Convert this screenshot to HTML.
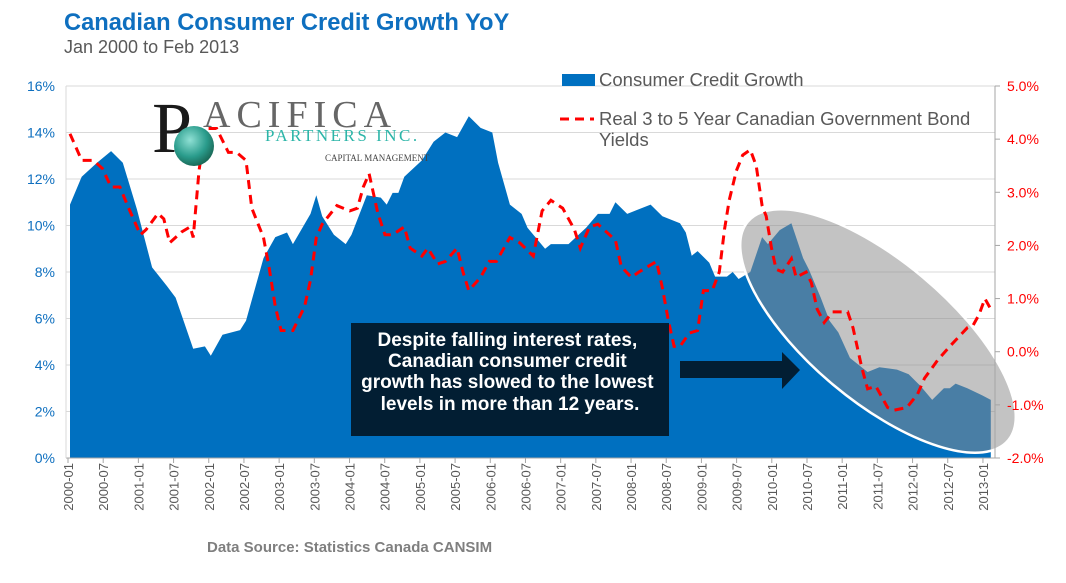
<!DOCTYPE html>
<html><head><meta charset="utf-8"><style>
body{margin:0;background:#fff;width:1066px;height:583px;overflow:hidden;font-family:"Liberation Sans",sans-serif}
svg{display:block}
</style></head><body>
<svg id="c" width="1066" height="583" xmlns="http://www.w3.org/2000/svg">
<text x="64" y="30" font-size="23.7" font-weight="bold" fill="#0e6fbf">Canadian Consumer Credit Growth YoY</text>
<text x="64" y="53" font-size="18" fill="#595959">Jan 2000 to Feb 2013</text>
<g id="grid"></g><g id="area"></g><g id="ell"></g><g id="line"></g><g id="axes"></g>
<g>
<text x="152" y="152" font-family="Liberation Serif,serif" font-size="72" fill="#1a1a1a">P</text>
<text x="203" y="127" font-family="Liberation Serif,serif" font-size="38" fill="#666" letter-spacing="6">ACIFICA</text>
<text x="265" y="141" font-family="Liberation Serif,serif" font-size="17" fill="#2cb5a8" letter-spacing="2.5">PARTNERS INC.</text>
<text x="325" y="161" font-family="Liberation Serif,serif" font-size="9" fill="#444">CAPITAL MANAGEMENT</text>
<defs><radialGradient id="g1" cx="0.4" cy="0.35" r="0.7"><stop offset="0" stop-color="#8fe0d4"/><stop offset="0.6" stop-color="#2a9c8c"/><stop offset="1" stop-color="#17614f"/></radialGradient></defs>
<circle cx="194" cy="146" r="20" fill="url(#g1)"/>
</g>
<g>
<rect x="562" y="74" width="33" height="12" fill="#0070c0"/>
<text x="599" y="86" font-size="18.5" fill="#595959">Consumer Credit Growth</text>
<line x1="560" y1="119" x2="594" y2="119" stroke="#ff0000" stroke-width="3" stroke-dasharray="9,6"/>
<text x="599" y="125" font-size="18.5" fill="#595959">Real 3 to 5 Year Canadian Government Bond</text>
<text x="599" y="146" font-size="18.5" fill="#595959">Yields</text>
</g>
<g>
<rect x="351" y="323" width="318" height="113" fill="#021e33"/>
<text font-size="19" font-weight="bold" fill="#fff" text-anchor="middle">
<tspan x="510" y="346">Despite falling interest  rates,</tspan>
<tspan x="510" y="367">Canadian consumer credit</tspan>
<tspan x="510" y="388">growth has slowed to the lowest</tspan>
<tspan x="510" y="410">levels in more than 12 years.</tspan></text>
</g>
<polygon points="680,361 782,361 782,352 800,370 782,389 782,378 680,378" fill="#021e33"/>
<text x="207" y="552" font-size="15" font-weight="bold" fill="#7f7f7f">Data Source: Statistics Canada CANSIM</text>
</svg>
<script>
const creditMonths=[0,2,4.6,7,9,11.4,14,16.5,18,21,23,24,26,29,30,33,35,37,38,41,42,43,45,47,48,50.6,53,54,55,56,57,60,62,64,66,68,70,72,73,75,77,78,81,82,85,88,90,92,93,95,99,101,104,105,106,107,109,110,112,113,114,116,118,119,121,123,125,126,128,129.5,131,133,136,138,141,143,145,147,149,150,151,153,155.5,157];
const creditValues=[10.9,12.1,12.7,13.2,12.7,10.7,8.2,7.4,6.9,4.7,4.8,4.4,5.3,5.5,5.9,8.6,9.5,9.7,9.2,10.5,11.3,10.4,9.6,9.2,9.6,11.3,11.2,10.9,11.4,11.4,12.1,12.8,13.6,14.0,13.8,14.7,14.2,14.0,12.7,10.9,10.5,9.9,9.0,9.2,9.2,9.9,10.5,10.5,11.0,10.5,10.9,10.4,10.1,9.7,8.7,8.9,8.4,7.8,7.8,8.0,7.7,8.0,9.5,9.2,9.8,10.1,8.6,8.1,6.9,5.9,5.4,4.3,3.7,3.9,3.8,3.6,3.1,2.5,3.0,3.0,3.2,3.0,2.7,2.5];
const bondMonths=[0,2,4,5.5,7,8.5,10,12,13,15,16,17,19,20.5,21,22,23,25,27,28.4,30,31,33,34,35,36,38,40,41,42,43,45.5,47.7,49,50,51,52.5,53.7,55,57,58,60,61,62.7,64,66,67,68,70,71.5,72.7,75,76.7,79,80.5,82,84,86,87,88.6,90,93,94,95.7,97,98.5,100,101,102,103,104,105.6,107,108,109.5,110.7,111.6,112.4,113.6,114.7,116,117,118,118.7,119.6,120.4,121.5,123,123.8,125.5,126.4,127.4,128.6,130,132.6,133.5,135,136,137.4,139.4,140.5,142.7,144.5,145.7,148,150,153,154,155,156,157];
const bondValues=[4.1,3.6,3.6,3.45,3.1,3.1,2.7,2.2,2.3,2.6,2.5,2.05,2.25,2.35,2.15,3.4,4.2,4.2,3.75,3.75,3.6,2.7,2.15,1.55,0.85,0.4,0.4,0.85,1.35,2.15,2.4,2.75,2.65,2.7,3.1,3.35,2.6,2.2,2.2,2.35,1.95,1.8,1.95,1.65,1.7,1.95,1.5,1.15,1.4,1.7,1.7,2.15,2.05,1.8,2.65,2.85,2.7,2.3,1.95,2.35,2.4,2.1,1.6,1.4,1.5,1.6,1.7,1.2,0.6,0.1,0.1,0.35,0.4,1.15,1.15,1.5,2.3,2.85,3.4,3.7,3.8,3.5,2.75,2.55,1.95,1.55,1.5,1.75,1.4,1.5,1.3,0.8,0.55,0.75,0.75,0.45,-0.3,-0.7,-0.65,-1.05,-1.1,-1.05,-0.8,-0.5,-0.15,0.1,0.45,0.5,0.7,1.0,0.8];
const leftTicks=["0%","2%","4%","6%","8%","10%","12%","14%","16%"];
const rightTicks=["-2.0%","-1.0%","0.0%","1.0%","2.0%","3.0%","4.0%","5.0%"];
const xLabels=["2000-01","2000-07","2001-01","2001-07","2002-01","2002-07","2003-01","2003-07","2004-01","2004-07","2005-01","2005-07","2006-01","2006-07","2007-01","2007-07","2008-01","2008-07","2009-01","2009-07","2010-01","2010-07","2011-01","2011-07","2012-01","2012-07","2013-01"];
const NS="http://www.w3.org/2000/svg";
const X0=70,PX=5.865,TOP=86,BOT=458;
const xs=m=>X0+m*PX;
const yl=v=>BOT-(v/16)*(BOT-TOP);
const yr=v=>BOT-((v+2)/7)*(BOT-TOP);
function mk(p,t,a){const e=document.createElementNS(NS,t);for(const k in a)e.setAttribute(k,a[k]);document.getElementById(p).appendChild(e);return e;}
leftTicks.forEach((t,i)=>{const y=yl(i*2);
 if(i>0){const g=mk('grid','line',{x1:66,x2:995,y1:y,y2:y,stroke:'#d9d9d9','stroke-width':1});
 
 }
 const tx=mk('axes','text',{x:55,y:y+5,'text-anchor':'end','font-size':14,fill:'#0e6fbf'});tx.textContent=t;
 
 });
rightTicks.forEach((t,i)=>{const v=i-2,y=yr(v);
 mk('axes','line',{x1:995,x2:1000,y1:y,y2:y,stroke:'#a6a6a6'});
 const tx=mk('axes','text',{x:1007,y:y+5,'font-size':14,fill:'#ff0000'});tx.textContent=t;
 
 });
let d='M'+xs(creditMonths[0])+','+BOT;
creditMonths.forEach((m,i)=>d+=' L'+xs(m).toFixed(1)+','+yl(creditValues[i]).toFixed(1));
d+=' L'+xs(creditMonths[creditMonths.length-1])+','+BOT+'Z';
const ar=mk('area','path',{d:d,fill:'#0070c0'});


const el=mk('ell','ellipse',{cx:878,cy:331,rx:170,ry:70,transform:'rotate(40 878 331)',fill:'rgba(140,140,140,0.52)',stroke:'#fff','stroke-width':2.5});


let p='';bondMonths.forEach((m,i)=>p+=(i?' L':'M')+xs(m).toFixed(1)+','+yr(bondValues[i]).toFixed(1));
const ln=mk('line','path',{d:p,fill:'none',stroke:'#ff0000','stroke-width':3,'stroke-dasharray':'9,6'});


mk('axes','line',{x1:66,x2:995,y1:BOT,y2:BOT,stroke:'#a6a6a6'});
mk('axes','line',{x1:995,x2:995,y1:TOP,y2:BOT,stroke:'#a6a6a6'});
mk('axes','line',{x1:66,x2:66,y1:TOP,y2:BOT,stroke:'#d9d9d9'});
xLabels.forEach((t,i)=>{const x=xs(i*6);
 mk('axes','line',{x1:x-2,x2:x-2,y1:BOT,y2:BOT+5,stroke:'#a6a6a6'});
 const tx=mk('axes','text',{x:0,y:0,'font-size':13,fill:'#595959','text-anchor':'end',transform:`translate(${x+3},${BOT+5}) rotate(-90)`});tx.textContent=t;
 
 });
</script>
</body></html>
